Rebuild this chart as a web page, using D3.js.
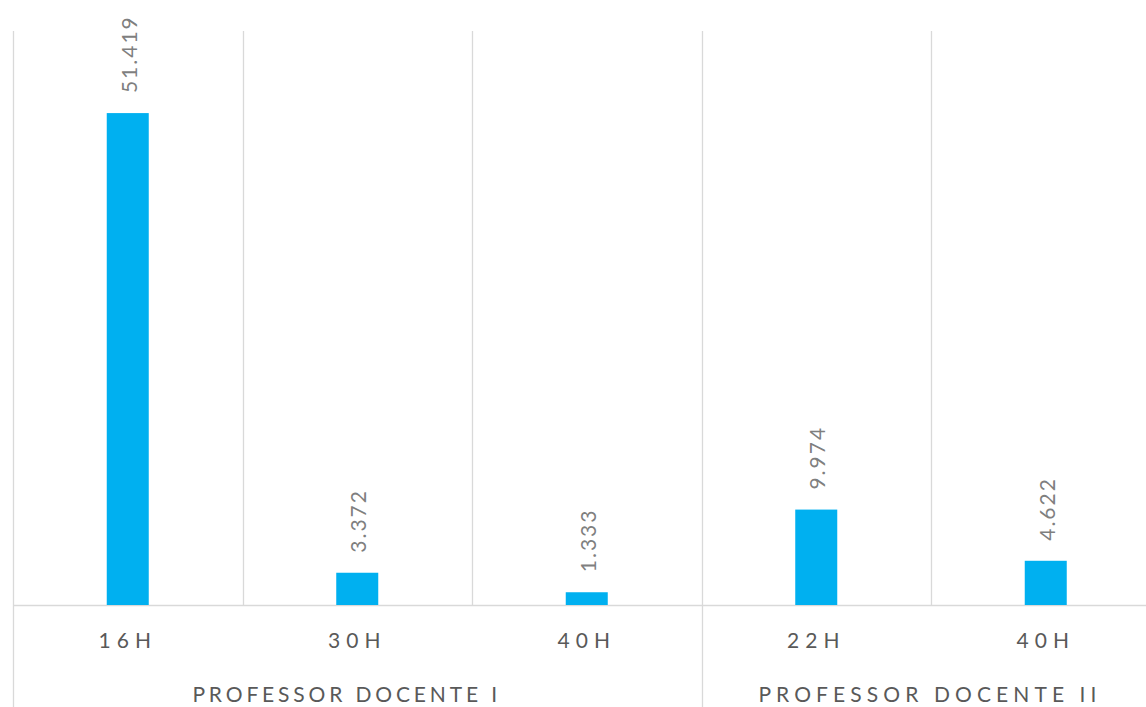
<!DOCTYPE html>
<html><head><meta charset="utf-8">
<script src="https://cdn.jsdelivr.net/npm/d3@7"></script>
<style>body{margin:0;background:#fff}svg{display:block}</style>
</head><body>
<svg id="c" width="1146" height="707"></svg>
<script>
const categories = ["16H","30H","40H","22H","40H"];
const groups = ["PROFESSOR DOCENTE I","PROFESSOR DOCENTE I","PROFESSOR DOCENTE I","PROFESSOR DOCENTE II","PROFESSOR DOCENTE II"];
const groupNames = ["PROFESSOR DOCENTE I","PROFESSOR DOCENTE II"];
const values = [51.419, 3.372, 1.333, 9.974, 4.622];
const labels = ["51.419","3.372","1.333","9.974","4.622"];

(function(){
const svg = d3.select("#c");
const plotLeft = 13, catW = 229.5, plotTop = 31, base = 605;
const groupShift = [-10.6, -1];
const groupSpacing = [3.85, 5.1];
const idx = d3.range(values.length);
const x = d3.scaleBand().domain(idx).range([plotLeft, plotLeft + catW*values.length]).paddingInner(0).paddingOuter(0);
const y = d3.scaleLinear().domain([0, 60]).range([base, plotTop]);
const font = "Lato, 'Open Sans', sans-serif";
const grid = "#d9d9d9";

idx.forEach(i => {
  const gx = Math.round(x(i)) + 0.5;
  const isGroupStart = i === 0 || groups[i] !== groups[i-1];
  svg.append("line").attr("x1", gx).attr("x2", gx).attr("y1", plotTop).attr("y2", isGroupStart ? 707 : base)
    .attr("stroke", grid).attr("stroke-width", 1.3);
});
svg.append("line").attr("x1", plotLeft).attr("x2", 1146).attr("y1", base+0.5).attr("y2", base+0.5).attr("stroke", grid).attr("stroke-width",1.3);

const bw = 42;
svg.selectAll("rect.bar").data(idx).join("rect")
  .attr("x", i => x(i) + x.bandwidth()/2 - bw/2)
  .attr("y", i => y(values[i]))
  .attr("width", bw)
  .attr("height", i => base - y(values[i]))
  .attr("fill", "#00b0f0");

svg.selectAll("text.val").data(idx).join("text")
  .attr("transform", i => `translate(${x(i) + x.bandwidth()/2 + 9},${y(values[i]) - 20}) rotate(-90)`)
  .attr("font-family", font).attr("font-size", 21).attr("letter-spacing", "2px")
  .attr("fill", "#7f7f7f").text(i => labels[i]);

svg.selectAll("text.cat").data(idx).join("text")
  .attr("x", i => x(i) + x.bandwidth()/2).attr("y", 648)
  .attr("text-anchor", "middle")
  .attr("font-family", font).attr("font-size", 21).attr("letter-spacing", "6px")
  .attr("fill", "#595959").text(i => categories[i]);

groupNames.forEach((g, k) => {
  const members = idx.filter(i => groups[i] === g);
  const x0 = x(members[0]), x1 = x(members[members.length-1]) + x.bandwidth();
  svg.append("text").attr("x", (x0 + x1)/2 + groupShift[k]).attr("y", 702)
    .attr("text-anchor", "middle")
    .attr("font-family", font).attr("font-size", 21).attr("letter-spacing", groupSpacing[k] + "px")
    .attr("fill", "#595959").text(g);
});
})();
</script>
</body></html>
